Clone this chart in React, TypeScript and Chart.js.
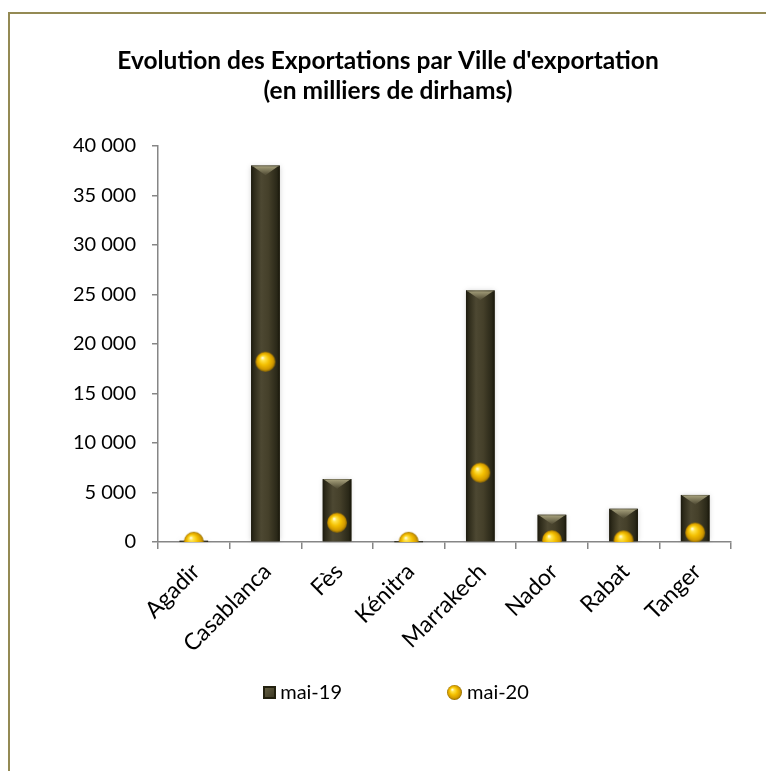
import React, { useEffect, useRef } from "react";
import { Chart, registerables } from "chart.js";

Chart.register(...registerables);

const titleLines = ["Evolution des Exportations par Ville d'exportation", "(en milliers de dirhams)"];
const categories = ["Agadir", "Casablanca", "Fès", "Kénitra", "Marrakech", "Nador", "Rabat", "Tanger"];
const seriesNames = ["mai-19", "mai-20"];
const mai19 = [120, 38000, 6350, 60, 25400, 2750, 3350, 4750];
const mai20 = [30, 18200, 1950, 20, 7000, 180, 170, 950];
const yMin = 0;
const yMax = 40000;
const yStep = 5000;

const FONT = "Lato, 'Open Sans', sans-serif";
const AXIS = "#868686";

function formatThousands(v: number): string {
  return String(v).replace(/\B(?=(\d{3})+(?!\d))/g, " ");
}

function makeBall(r: number): HTMLCanvasElement {
  const size = Math.ceil(r * 2 + 2);
  const c = document.createElement("canvas");
  c.width = size;
  c.height = size;
  const g = c.getContext("2d")!;
  const cx = size / 2;
  const cy = size / 2;
  const grad = g.createRadialGradient(cx - r * 0.3, cy - r * 0.4, r * 0.05, cx, cy, r);
  grad.addColorStop(0, "#fffbd8");
  grad.addColorStop(0.18, "#ffe34a");
  grad.addColorStop(0.5, "#f4c000");
  grad.addColorStop(0.82, "#d29a00");
  grad.addColorStop(1, "#8f6a00");
  g.fillStyle = grad;
  g.beginPath();
  g.arc(cx, cy, r, 0, Math.PI * 2);
  g.fill();
  return c;
}

function makeSquare(s: number): HTMLCanvasElement {
  const c = document.createElement("canvas");
  c.width = s;
  c.height = s;
  const g = c.getContext("2d")!;
  g.fillStyle = "#23210f";
  g.fillRect(0, 0, s, s);
  const grad = g.createLinearGradient(0, 0, s, s);
  grad.addColorStop(0, "#6b6547");
  grad.addColorStop(1, "#35321f");
  g.fillStyle = grad;
  g.fillRect(2, 2, s - 4, s - 4);
  return c;
}

const barStylePlugin = {
  id: "barStyle",
  afterDatasetDraw(chart: any, args: any) {
    if (args.index !== 0) return;
    const ctx = chart.ctx as CanvasRenderingContext2D;
    args.meta.data.forEach((el: any) => {
      const p = el.getProps(["x", "y", "base", "width"], true);
      const left = p.x - p.width / 2;
      const top = Math.min(p.y, p.base);
      const h = Math.abs(p.base - p.y);
      const w = p.width;
      ctx.save();
      ctx.shadowColor = "rgba(0,0,0,0.18)";
      ctx.shadowBlur = 5;
      const g = ctx.createLinearGradient(left, 0, left + w, 0);
      g.addColorStop(0, "#1c1a0e");
      g.addColorStop(0.1, "#2e2b1a");
      g.addColorStop(0.35, "#4d4832");
      g.addColorStop(0.6, "#45402a");
      g.addColorStop(0.9, "#2a2818");
      g.addColorStop(1, "#181609");
      ctx.fillStyle = g;
      ctx.fillRect(left, top, w, Math.max(h, 1));
      ctx.shadowBlur = 0;
      ctx.shadowColor = "transparent";
      if (h > 8) {
        const ch = Math.min(w * 0.3, h * 0.4);
        const tg = ctx.createLinearGradient(0, top, 0, top + ch);
        tg.addColorStop(0, "#aaa47f");
        tg.addColorStop(1, "#57523a");
        ctx.fillStyle = tg;
        ctx.beginPath();
        ctx.moveTo(left + 2, top + 1);
        ctx.lineTo(left + w - 2, top + 1);
        ctx.lineTo(p.x, top + ch + 1);
        ctx.closePath();
        ctx.fill();
        ctx.fillStyle = "rgba(200,195,160,0.5)";
        ctx.fillRect(left + 1, top, w - 2, 1);
      }
      ctx.restore();
    });
  },
};

// Custom legend drawn below the axis labels, items in dataset order.
const legendPlugin = {
  id: "customLegend",
  afterDraw(chart: any, _args: any, opts: any) {
    const ctx = chart.ctx as CanvasRenderingContext2D;
    const markers: HTMLCanvasElement[] = opts.markers;
    const names: string[] = chart.data.datasets.map((d: any) => d.label);
    ctx.save();
    ctx.font = `${opts.fontSize}px ${FONT}`;
    ctx.fillStyle = "#000";
    ctx.textBaseline = "middle";
    ctx.textAlign = "left";
    const widths = names.map((n, i) => markers[i].width + opts.markerGap + ctx.measureText(n).width);
    const total = widths.reduce((a, b) => a + b, 0) + opts.itemGap * (names.length - 1);
    let x = chart.width / 2 + opts.shiftX - total / 2;
    const y = chart.chartArea.bottom + opts.offsetY;
    names.forEach((n, i) => {
      const m = markers[i];
      ctx.drawImage(m, Math.round(x), Math.round(y - m.height / 2));
      ctx.fillText(n, x + m.width + opts.markerGap, y + 1);
      x += widths[i] + opts.itemGap;
    });
    ctx.restore();
  },
};

export default function App() {
  const ref = useRef<HTMLCanvasElement | null>(null);

  useEffect(() => {
    if (!ref.current) return;
    const ball = makeBall(10);
    const legendBall = makeBall(7.5);
    const legendSquare = makeSquare(13);

    const chart = new Chart(ref.current, {
      type: "bar",
      data: {
        labels: categories,
        datasets: [
          {
            type: "bar",
            label: seriesNames[0],
            data: mai19,
            backgroundColor: "#3f3b27",
            borderWidth: 0,
            categoryPercentage: 1,
            barPercentage: 0.4,
            order: 2,
          } as any,
          {
            type: "line",
            label: seriesNames[1],
            data: mai20,
            showLine: false,
            pointStyle: ball as any,
            pointRadius: 10,
            backgroundColor: "#f2c000",
            borderColor: "#f2c000",
            order: 1,
          } as any,
        ],
      },
      options: {
        responsive: false,
        animation: false,
        events: [],
        layout: { padding: { left: 35, right: 43, top: 0, bottom: 99 } },
        plugins: {
          title: {
            display: true,
            text: titleLines,
            color: "#000",
            font: { family: FONT, size: 24.5, weight: "bold", lineHeight: 1.22 },
            padding: { top: 32, bottom: 40 },
          },
          legend: { display: false },
          tooltip: { enabled: false },
          customLegend: {
            markers: [legendSquare, legendBall],
            fontSize: 20,
            markerGap: 4,
            itemGap: 104,
            offsetY: 150,
            shiftX: 4,
          },
        },
        scales: {
          x: {
            offset: true,
            grid: {
              display: true,
              offset: true,
              drawOnChartArea: false,
              drawTicks: true,
              tickLength: 7,
              color: AXIS,
              lineWidth: 1.5,
            },
            border: { display: true, color: AXIS, width: 1.5 },
            ticks: {
              color: "#000",
              font: { family: FONT, size: 23 },
              minRotation: 45,
              maxRotation: 45,
              autoSkip: false,
              padding: 9,
              labelOffset: 2,
            },
            afterFit(scale: any) {
              scale.height = 130;
            },
          },
          y: {
            min: yMin,
            max: yMax,
            grid: {
              display: true,
              drawOnChartArea: false,
              drawTicks: true,
              tickLength: 6,
              color: AXIS,
              lineWidth: 1.5,
            },
            border: { display: true, color: AXIS, width: 1.5 },
            ticks: {
              stepSize: yStep,
              color: "#000",
              font: { family: FONT, size: 20 },
              padding: 16,
              callback: (v: any) => formatThousands(Number(v)),
            },
            afterFit(scale: any) {
              scale.width = 113;
            },
          },
        },
      } as any,
      plugins: [barStylePlugin, legendPlugin],
    });
    return () => chart.destroy();
  }, []);

  return (
    <div
      style={{
        marginTop: 4,
        width: 764,
        height: 757,
        borderTop: "2px solid #948a54",
        borderLeft: "2px solid #948a54",
        background: "#fff",
        overflow: "hidden",
      }}
    >
      <canvas ref={ref} width={764} height={757} style={{ display: "block" }} />
    </div>
  );
}
